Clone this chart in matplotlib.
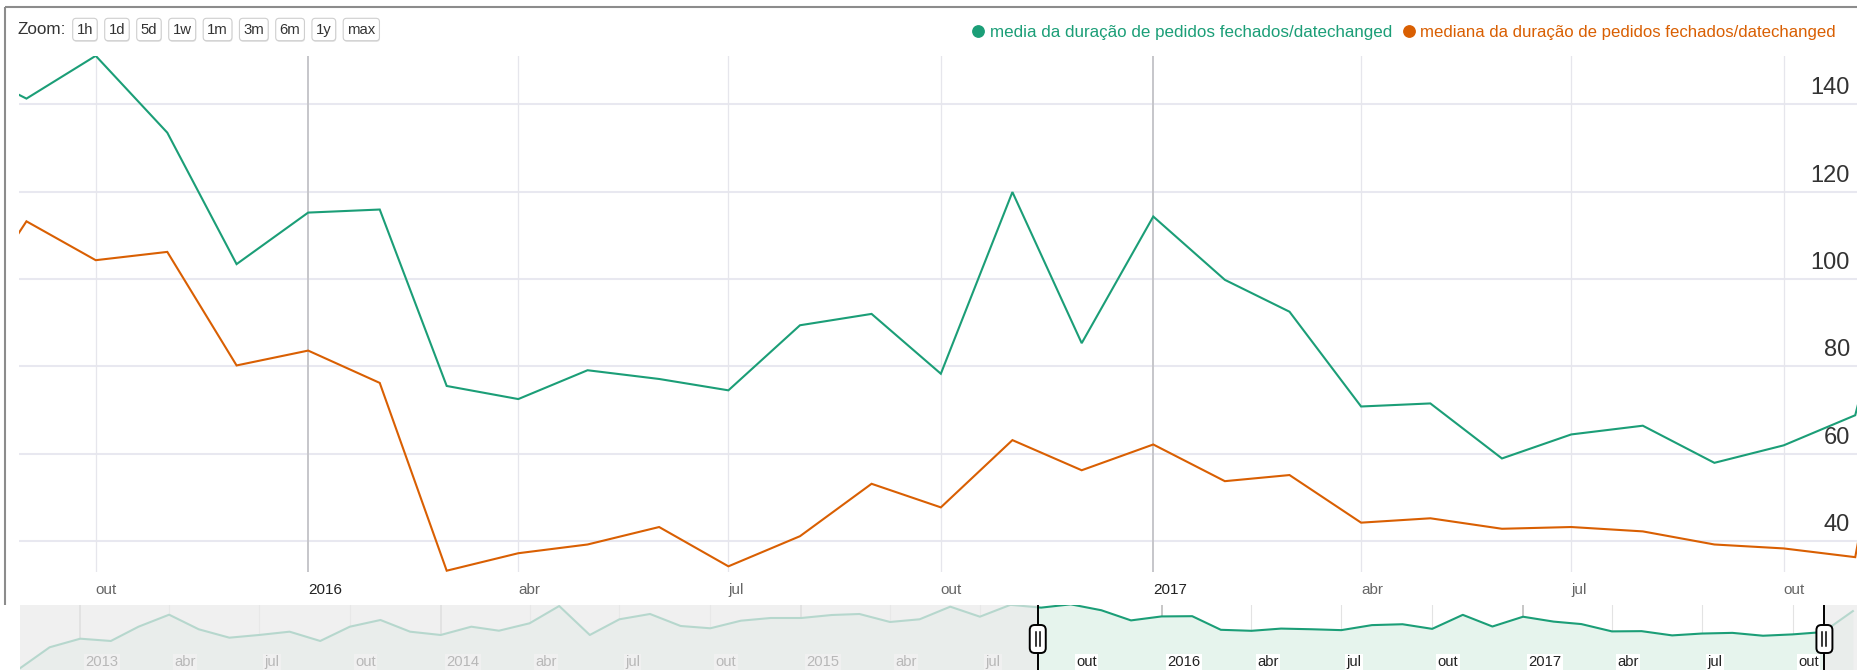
import datetime as dt
import matplotlib
matplotlib.use("Agg")
import matplotlib.pyplot as plt
import matplotlib.transforms as mtransforms
from matplotlib.patches import FancyBboxPatch

plt.rcParams['font.family'] = ['Liberation Sans', 'DejaVu Sans']

# ---------------- data ----------------
mean_label = "media da duração de pedidos fechados/datechanged"
median_label = "mediana da duração de pedidos fechados/datechanged"

first_month = (2015, 8)          # monthly series Aug 2015 .. Dec 2017
mean_days = [149.6, 141.3, 151.1, 133.5, 103.4,
             115.2, 115.9, 75.5, 72.5, 79.1, 77.1, 74.5, 89.4, 92.0, 78.3, 119.9, 85.3,
             114.3, 99.8, 92.5, 70.8, 71.5, 58.9, 64.4, 66.4, 57.9, 61.9, 68.8, 131.0]
median_days = [88.3, 113.2, 104.3, 106.2, 80.2,
               83.6, 76.2, 33.2, 37.2, 39.2, 43.2, 34.2, 41.1, 53.1, 47.7, 63.1, 56.2,
               62.1, 53.7, 55.1, 44.2, 45.2, 42.8, 43.2, 42.2, 39.2, 38.3, 36.3, 121.0]

overview_first_month = (2012, 11)  # earlier months only visible in the range selector
overview_early = [-38.7, 23.6,
                  49.1, 42.3, 84.7, 120.3, 77.0, 52.1, 60.1, 69.9, 42.3, 84.7, 104.6, 69.9,
                  60.1, 84.7, 72.8, 94.8, 146.1, 60.1, 106.7, 122.4, 86.8, 80.0, 102.5, 110.5,
                  110.5, 119.4, 122.4, 98.7, 106.7, 144.1, 114.4]

month_names = {4: "abr", 7: "jul", 10: "out"}
y_ticks = [40, 60, 80, 100, 120, 140]
zoom_buttons = ["1h", "1d", "5d", "1w", "1m", "3m", "6m", "1y", "max"]

GREEN = '#1b9e77'
ORANGE = '#d95f02'


def month_seq(start, n):
    y, m = start
    out = []
    for _ in range(n):
        out.append(dt.datetime(y, m, 1))
        m += 1
        if m > 12:
            m = 1
            y += 1
    return out


dates = month_seq(first_month, len(mean_days))
early_dates = month_seq(overview_first_month, len(overview_early))

# visible window (range selector handles)
anchor = dt.datetime(2015, 10, 1)
win_start = anchor - dt.timedelta(days=33.4)
win_end = anchor + dt.timedelta(days=763.2)
ylim_main = (32.97, 151.17)
mini_xlim = (dt.datetime(2012, 11, 1), dt.datetime(2013, 1, 1) + dt.timedelta(days=1800.2))
mini_ylim = (-43.8, 149.1)

# ---------------- figure ----------------
W, H, DPI = 1858, 670, 100
fig = plt.figure(figsize=(W / DPI, H / DPI), dpi=DPI)
fig.patch.set_facecolor('white')


def fx(px):
    return px / W


ax = fig.add_axes([fx(18.6), 1 - 571.7 / H, fx(W - 18.6), (571.7 - 55.5) / H])
mini = fig.add_axes([fx(20), 0, fx(W - 20), 65 / H])
over = fig.add_axes([0, 0, 1, 1], zorder=10)
over.set_xlim(0, W)
over.set_ylim(H, 0)
over.axis('off')

# ---- main chart ----
ax.plot(dates, mean_days, color=GREEN, lw=1.5, zorder=3, solid_joinstyle='miter')
ax.plot(dates, median_days, color=ORANGE, lw=1.5, zorder=3, solid_joinstyle='miter')
ax.set_xlim(win_start, win_end)
ax.set_ylim(*ylim_main)
for s in ax.spines.values():
    s.set_visible(False)
ax.set_axisbelow(True)
ax.set_yticks(y_ticks)
ax.tick_params(axis='y', left=False, labelleft=False)
ax.yaxis.grid(True, color='#e8e8f0', lw=1.5)

quarters = [dt.datetime(y, m, 1) for y in range(2012, 2019) for m in (1, 4, 7, 10)]
main_ticks = [t for t in quarters if win_start <= t <= win_end]
for t in main_ticks:
    yr = t.month == 1
    ax.axvline(t, color='#c6c6ca' if yr else '#e6e6ec', lw=1.4 if yr else 0.9, zorder=1)
ax.set_xticks(main_ticks)
ax.set_xticklabels([str(t.year) if t.month == 1 else month_names[t.month] for t in main_ticks],
                   ha='left')
ax.tick_params(axis='x', length=0, pad=8, labelsize=11)
for lbl, t in zip(ax.get_xticklabels(), main_ticks):
    lbl.set_color('#222222' if t.month == 1 else '#666666')

ytrans = mtransforms.blended_transform_factory(ax.transAxes, ax.transData) + \
    mtransforms.ScaledTranslation(0, 10 / DPI, fig.dpi_scale_trans)
xr = (1850 - 18.6) / (W - 18.6)
for v in y_ticks:
    ax.text(xr, v, str(v), transform=ytrans, ha='right', va='baseline',
            fontsize=17, color='#333333', zorder=4)

# ---- range selector ----
ov_dates = early_dates + dates
ov_vals = overview_early + mean_days
mini.set_xlim(*mini_xlim)
mini.set_ylim(*mini_ylim)
mini.fill_between(ov_dates, ov_vals, mini_ylim[0], color='#e6f4ed', lw=0, zorder=1)
mini.plot(ov_dates, ov_vals, color=GREEN, lw=1.5, zorder=2)
for s in mini.spines.values():
    s.set_visible(False)
mini.set_xticks([])
mini.set_yticks([])
mini_ticks = [t for t in quarters if mini_xlim[0] <= t <= mini_xlim[1]]
ltrans = mtransforms.blended_transform_factory(mini.transData, mini.transAxes) + \
    mtransforms.ScaledTranslation(5.5 / DPI, 0, fig.dpi_scale_trans)
for t in mini_ticks:
    yr = t.month == 1
    mini.axvline(t, color='#bdbdbd' if yr else '#e3e3e3', lw=1.2 if yr else 0.8, zorder=0.5)
    mini.text(t, 4 / 65, str(t.year) if yr else month_names[t.month], transform=ltrans,
              ha='left', va='baseline', fontsize=10.6, color='#222222', zorder=3,
              bbox=dict(facecolor='white', edgecolor='none', pad=1.0))
shade = (235 / 255, 235 / 255, 235 / 255)
mini.axvspan(mini_xlim[0], win_start, color=shade, alpha=0.75, lw=0, zorder=4)
mini.axvspan(win_end, mini_xlim[1], color=shade, alpha=0.75, lw=0, zorder=4)
for t in (win_start, win_end):
    mini.axvline(t, color='black', lw=1.4, zorder=5)

# handles (pixel coordinates from the mini axes transform)
import matplotlib.dates as mdates
for t in (win_start, win_end):
    xd = mini.transData.transform((mdates.date2num(t), 0))[0]
    hb = FancyBboxPatch((xd - 8, 639 - 14), 16, 28, boxstyle="round,pad=0,rounding_size=5",
                        fc='white', ec='black', lw=1.4, zorder=6)
    over.add_patch(hb)
    for dx in (-2, 2):
        over.plot([xd + dx, xd + dx], [632, 646], color='black', lw=1.1, zorder=7)

# ---- frame ----
over.plot([5, 5], [7, 605], color='#8c8c8c', lw=1.5, solid_capstyle='butt')
over.plot([5, W], [7, 7], color='#8c8c8c', lw=1.5, solid_capstyle='butt')

# ---- zoom buttons ----
renderer = fig.canvas.get_renderer()
over.text(18, 34.3, "Zoom:", fontsize=12.3, color='#333333', ha='left', va='baseline')
bx = 72.7
for lab in zoom_buttons:
    t = over.text(0, 34.3, lab, fontsize=10.7, color='#333333', ha='center', va='baseline', zorder=8)
    w = t.get_window_extent(renderer).width + 8
    shadow = FancyBboxPatch((bx + 0.5, 19.5), w, 22.4, boxstyle="round,pad=0,rounding_size=3.5",
                            fc='#e4e4e4', ec='none', zorder=6)
    box = FancyBboxPatch((bx, 18.3), w, 22.4, boxstyle="round,pad=0,rounding_size=3.5",
                         fc='white', ec='#cfcfcf', lw=0.8, zorder=7)
    over.add_patch(shadow)
    over.add_patch(box)
    t.set_x(bx + w / 2)
    bx += w + 7.5

# ---- legend ----
for label, color, dot_x, text_x, target_w in ((mean_label, GREEN, 978.2, 990, 401.7),
                                              (median_label, ORANGE, 1409, 1420.5, 417.2)):
    over.plot([dot_x], [30.5], marker='o', ms=8.2, color=color, mec=color, zorder=8)
    t = over.text(text_x, 36.5, label, fontsize=12, color=color, ha='left', va='baseline', zorder=8)
    wpx = t.get_window_extent(renderer).width
    t.set_fontsize(12 * target_w / wpx)

fig.savefig("out.png", dpi=DPI, facecolor='white')
